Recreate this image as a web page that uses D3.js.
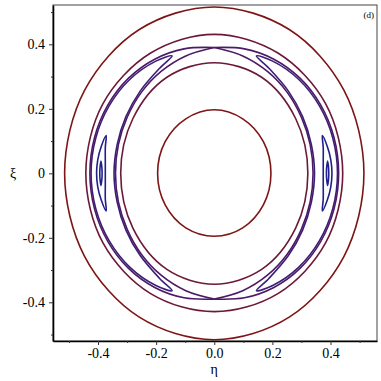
<!DOCTYPE html>
<html>
<head>
<meta charset="utf-8">
<script src="https://cdn.jsdelivr.net/npm/d3@7"></script>
<style>
  body { margin: 0; background: #fff; }
  svg { display: block; }
  text { font-family: "Liberation Serif", "Times New Roman", serif; fill: #000; }
</style>
</head>
<body>
<svg id="chart" width="381" height="381"></svg>
<script>
// tick values / labels
var etaTicks = [-0.4, -0.2, 0, 0.2, 0.4];
var etaLabels = ["-0.4", "-0.2", "0.0", "0.2", "0.4"];
var xiTicks = [-0.4, -0.2, 0, 0.2, 0.4];
var xiLabels = ["-0.4", "-0.2", "0", "0.2", "0.4"];
var minorTicks = [-0.5, -0.3, -0.1, 0.1, 0.3, 0.5];

// orbits, [eta, xi]
var outerOrbit = [[0.515,0],[0.446,0.258],[0.258,0.446],[0,0.516],[-0.258,0.446],[-0.446,0.258],
  [-0.515,0],[-0.446,-0.258],[-0.258,-0.446],[0,-0.516],[0.258,-0.446],[0.446,-0.258]];
var innerOrbit = [[0.195,0],[0.169,0.098],[0.098,0.169],[0,0.197],[-0.098,0.169],[-0.169,0.098],
  [-0.195,0],[-0.169,-0.098],[-0.098,-0.169],[0,-0.195],[0.098,-0.169],[0.169,-0.098]];
var ringOutside = [[0.442,0],[0.383,0.216],[0.219,0.373],[0,0.431],[-0.219,0.373],[-0.383,0.216],
  [-0.442,0],[-0.383,-0.216],[-0.219,-0.373],[0,-0.429],[0.219,-0.373],[0.383,-0.216]];
var ringInside = [[0.322,0],[0.28,0.17],[0.163,0.298],[0,0.343],[-0.163,0.298],[-0.28,0.17],
  [-0.322,0],[-0.28,-0.17],[-0.163,-0.298],[0,-0.344],[0.163,-0.298],[0.28,-0.17]];

// separatrix branches, top X point to bottom X point
var sepOuterLeft = [[0,0.39],[-0.104,0.386],[-0.205,0.354],[-0.295,0.295],[-0.366,0.212],[-0.412,0.111],[-0.428,0],
  [-0.412,-0.111],[-0.366,-0.212],[-0.295,-0.295],[-0.205,-0.354],[-0.104,-0.386],[0,-0.39]];
var sepInnerLeft = [[0,0.39],[-0.098,0.364],[-0.183,0.316],[-0.251,0.251],[-0.3,0.173],[-0.33,0.089],[-0.34,0],
  [-0.33,-0.089],[-0.3,-0.173],[-0.251,-0.251],[-0.183,-0.316],[-0.098,-0.364],[0,-0.39]];
var sepOuterRight = [[0,0.39],[0.104,0.386],[0.205,0.354],[0.295,0.295],[0.366,0.212],[0.412,0.111],[0.428,0],
  [0.412,-0.111],[0.366,-0.212],[0.295,-0.295],[0.205,-0.354],[0.104,-0.386],[0,-0.39]];
var sepInnerRight = [[0,0.39],[0.098,0.364],[0.183,0.316],[0.251,0.251],[0.3,0.173],[0.33,0.089],[0.34,0],
  [0.33,-0.089],[0.3,-0.173],[0.251,-0.251],[0.183,-0.316],[0.098,-0.364],[0,-0.39]];

// crescent orbits hugging the separatrix
var hornLeft = [[-0.145,0.364],[-0.201,0.348],[-0.291,0.291],[-0.362,0.209],[-0.408,0.109],[-0.424,0],
  [-0.408,-0.109],[-0.362,-0.209],[-0.291,-0.291],[-0.201,-0.348],[-0.145,-0.364],[-0.188,-0.326],
  [-0.255,-0.255],[-0.304,-0.176],[-0.334,-0.09],[-0.345,0],[-0.334,0.09],[-0.304,0.176],[-0.255,0.255],[-0.188,0.326]];
var hornRight = [[0.145,0.364],[0.201,0.348],[0.291,0.291],[0.362,0.209],[0.408,0.109],[0.424,0],
  [0.408,-0.109],[0.362,-0.209],[0.291,-0.291],[0.201,-0.348],[0.145,-0.364],[0.188,-0.326],
  [0.255,-0.255],[0.304,-0.176],[0.334,-0.09],[0.345,0],[0.334,0.09],[0.304,0.176],[0.255,0.255],[0.188,0.326]];

// islands around the O points
var islandLeft = [[-0.372,0.117],[-0.389,0.083],[-0.401,0.042],[-0.405,0],[-0.401,-0.042],[-0.389,-0.083],
  [-0.372,-0.117],[-0.375,-0.08],[-0.375,-0.039],[-0.375,0],[-0.375,0.039],[-0.375,0.08]];
var islandRight = [[0.372,0.117],[0.389,0.083],[0.401,0.042],[0.405,0],[0.401,-0.042],[0.389,-0.083],
  [0.372,-0.117],[0.375,-0.08],[0.375,-0.039],[0.375,0],[0.375,0.039],[0.375,0.08]];
var coreLeft = [[-0.39,0.038],[-0.393,0.02],[-0.394,0],[-0.393,-0.02],[-0.39,-0.038],[-0.387,-0.02],[-0.386,0],[-0.387,0.02]];
var coreRight = [[0.39,0.038],[0.393,0.02],[0.394,0],[0.393,-0.02],[0.39,-0.038],[0.387,-0.02],[0.386,0],[0.387,0.02]];

(function() {
  var closedOrbits = [
    { pts: outerOrbit, c: "#7e1515" },
    { pts: innerOrbit, c: "#7e1515" },
    { pts: ringOutside, c: "#6c1838" },
    { pts: ringInside, c: "#6c1838" },
    { pts: hornLeft, c: "#3c1f78" },
    { pts: hornRight, c: "#3c1f78" },
    { pts: islandLeft, c: "#20208c" },
    { pts: islandRight, c: "#20208c" },
    { pts: coreLeft, c: "#20208c" },
    { pts: coreRight, c: "#20208c" }
  ];
  var openOrbits = [
    { pts: sepOuterLeft, c: "#4c1a66" },
    { pts: sepInnerLeft, c: "#4c1a66" },
    { pts: sepOuterRight, c: "#4c1a66" },
    { pts: sepInnerRight, c: "#4c1a66" }
  ];

  var svg = d3.select("#chart");
  var pl = 53, pr = 377, pt = 5, pb = 341;

  var x = d3.scaleLinear().domain([-0.555, 0.56]).range([pl, pr]);
  var y = d3.scaleLinear().domain([-0.52, 0.522]).range([pb, pt]);

  // thin box
  svg.append("rect")
    .attr("x", pl).attr("y", pt)
    .attr("width", pr - pl).attr("height", pb - pt)
    .attr("fill", "none").attr("stroke", "#444").attr("stroke-width", 1);

  var closedLine = d3.line().x(function(d) { return x(d[0]); }).y(function(d) { return y(d[1]); })
    .curve(d3.curveCatmullRomClosed.alpha(0.5));
  var openLine = d3.line().x(function(d) { return x(d[0]); }).y(function(d) { return y(d[1]); })
    .curve(d3.curveCatmullRom.alpha(0.5));

  var g = svg.append("g");
  g.selectAll("path.closed").data(closedOrbits).enter().append("path")
    .attr("class", "closed")
    .attr("d", function(d) { return closedLine(d.pts); })
    .attr("fill", "none").attr("stroke", function(d) { return d.c; }).attr("stroke-width", 1.6);
  g.selectAll("path.open").data(openOrbits).enter().append("path")
    .attr("class", "open")
    .attr("d", function(d) { return openLine(d.pts); })
    .attr("fill", "none").attr("stroke", function(d) { return d.c; }).attr("stroke-width", 1.6);

  // axes
  svg.append("g").attr("transform", "translate(0," + pb + ")")
    .call(d3.axisBottom(x).tickValues(etaTicks).tickFormat(function(d, i) { return etaLabels[i]; })
      .tickSize(4).tickSizeOuter(0).tickPadding(3));
  svg.append("g").attr("transform", "translate(0," + pb + ")")
    .call(d3.axisBottom(x).tickValues(minorTicks).tickFormat("").tickSize(2).tickSizeOuter(0))
    .select(".domain").remove();
  svg.append("g").attr("transform", "translate(" + pl + ",0)")
    .call(d3.axisLeft(y).tickValues(xiTicks).tickFormat(function(d, i) { return xiLabels[i]; })
      .tickSize(4).tickSizeOuter(0).tickPadding(4));
  svg.append("g").attr("transform", "translate(" + pl + ",0)")
    .call(d3.axisLeft(y).tickValues(minorTicks).tickFormat("").tickSize(2).tickSizeOuter(0))
    .select(".domain").remove();

  svg.selectAll(".domain").attr("stroke", "#000").attr("stroke-width", 1.6);
  svg.selectAll(".tick line").attr("stroke", "#333");
  svg.selectAll(".tick text").style("font-family", "'Liberation Serif', serif").style("font-size", "14px").attr("fill", "#000");

  // axis titles
  svg.append("text").attr("x", x(0)).attr("y", 374).attr("text-anchor", "middle")
    .style("font-size", "14px").text("η");
  svg.append("text").attr("x", 13).attr("y", y(0)).attr("dy", "0.35em").attr("text-anchor", "middle")
    .style("font-size", "14px").text("ξ");

  // panel label
  svg.append("text").attr("x", 374).attr("y", 18).attr("text-anchor", "end")
    .style("font-size", "9px").text("(d)");
})();
</script>
</body>
</html>
